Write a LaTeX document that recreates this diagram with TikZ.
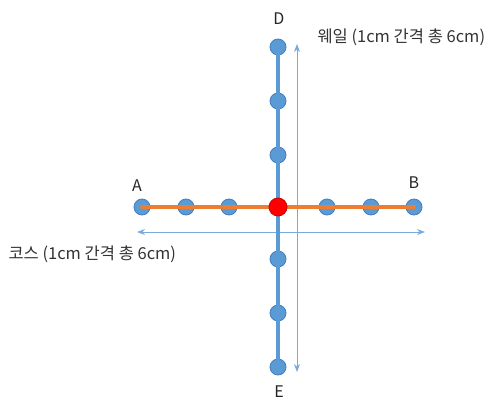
\documentclass[tikz,border=0pt]{standalone}
\usepackage{fontspec}
\setmainfont{Noto Sans CJK KR}
\usetikzlibrary{arrows.meta}
\definecolor{dotblue}{RGB}{91,155,213}
\definecolor{dotedge}{RGB}{65,125,190}
\definecolor{lineorange}{RGB}{237,125,49}
\definecolor{axisblue}{RGB}{120,170,220}

\begin{document}
\begin{tikzpicture}[x=1pt,y=-1pt,line cap=round,line join=round,
  dot/.style={circle,fill=dotblue,draw=dotedge,line width=0.8pt,inner sep=0pt,minimum size=16pt},
  middot/.style={circle,fill=red,draw=red!80!black,line width=0.8pt,inner sep=0pt,minimum size=18pt},
  letter/.style={font=\fontsize{16}{16}\selectfont,text=black!85},
  caption/.style={font=\fontsize{16.5}{18}\selectfont,text=black!80,anchor=west},
  axis/.style={axisblue,line width=0.9pt,{Stealth[length=8pt,width=6pt]}-{Stealth[length=8pt,width=6pt]}}]
\useasboundingbox (0,0) rectangle (498,407);
% arrows along the two directions
\coordinate (wl) at (137,232);
\coordinate (wr) at (425,232);
\coordinate (wt) at (297,44);
\coordinate (wb) at (297,372);
\draw[axis] (wl) -- (wr);
% vertical dots and line
\foreach \y [count=\i] in {47,101,155,259,313,367}
  \node[dot] (v\i) at (278,\y) {};
\draw[dotblue,line width=4.5pt] (v1.center) -- (v6.center);
\draw[axis] (wt) -- (wb);
% horizontal dots and line
\foreach \x [count=\i] in {142,186,229,327,371,414}
  \node[dot] (h\i) at (\x,207) {};
\draw[lineorange,line width=4pt] (h1.center) -- (h6.center);
\node[middot] (o) at (278,207) {};
% labels
\node[letter] (la) at (137,186) {A};
\node[letter] (lb) at (414,183) {B};
\node[letter] (ld) at (279,19) {D};
\node[letter] (le) at (279,392) {E};
\node[caption] (cw) at (314,37) {웨일 (1cm 간격 총 6cm)};
\node[caption] (cc) at (5,254) {코스 (1cm 간격 총 6cm)};
\end{tikzpicture}
\end{document}
